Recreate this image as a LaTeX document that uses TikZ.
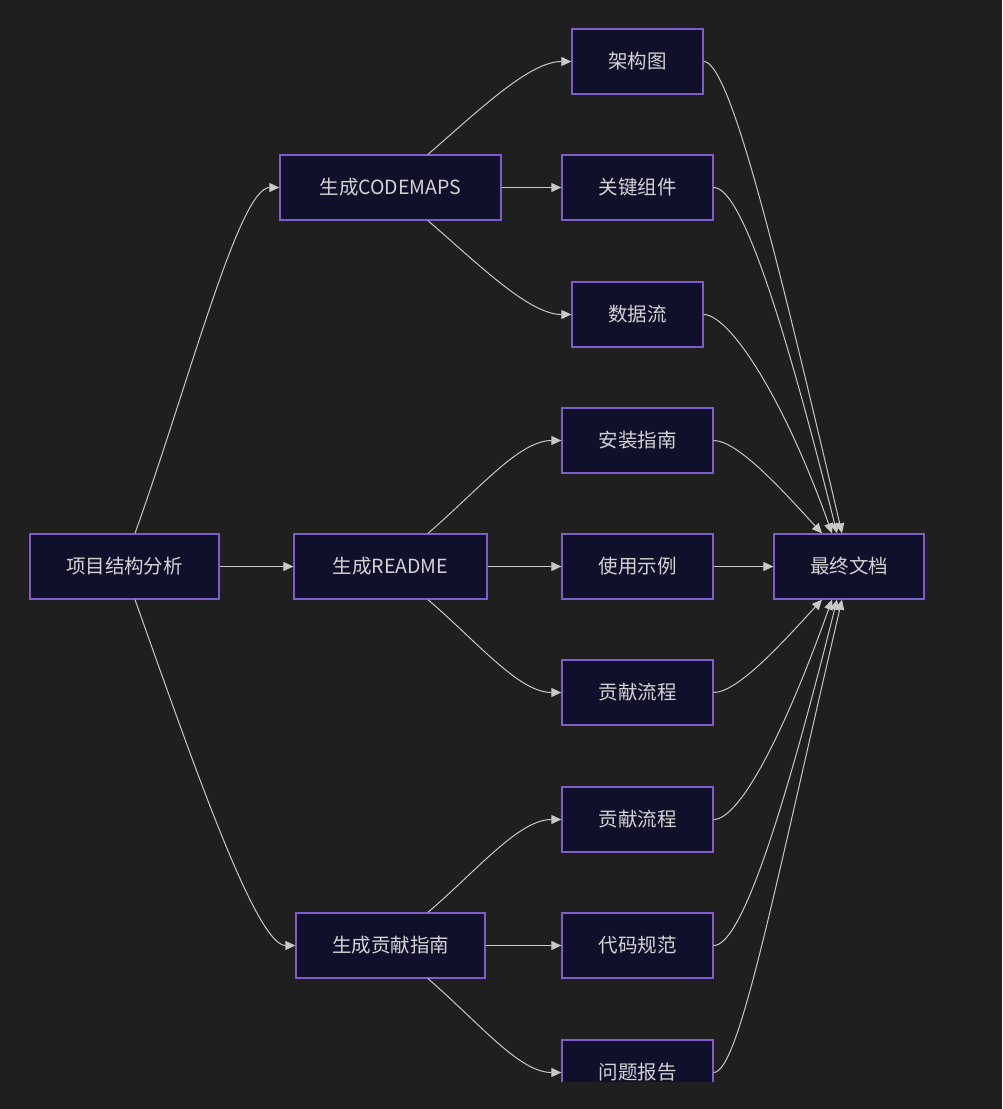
\documentclass[tikz,border=0pt]{standalone}
\usepackage{fontspec}
\setmainfont{Noto Sans CJK SC}
\usetikzlibrary{arrows.meta}
\definecolor{bgdark}{HTML}{1F1F1F}
\definecolor{boxfill}{HTML}{10102A}
\definecolor{boxedge}{HTML}{7E5CCB}
\definecolor{linkgray}{HTML}{C8C8C8}
\definecolor{txtgray}{HTML}{D4D4D4}

\begin{document}
\begin{tikzpicture}[x=1pt,y=-1pt,
  box/.style={draw=boxedge,line width=1.3pt,fill=boxfill,text=txtgray,
    minimum height=65pt,inner sep=0pt,font=\fontsize{19.5}{23}\selectfont},
  link/.style={draw=linkgray,line width=1pt,-{Triangle[length=10pt,width=9pt]}}]
  % --- canvas ---
  \fill[bgdark] (0,0) rectangle (1002,1109);
  \useasboundingbox (0,0) rectangle (1002,1109);
  \begin{scope}
    \clip (0,0) rectangle (1002,1081);
    % --- left column ---
    \node[box,minimum width=189pt] (proj) at (124.5,566.5) {项目结构分析};
    % --- generators ---
    \node[box,minimum width=221pt] (cmap) at (390.5,187.5) {生成CODEMAPS};
    \node[box,minimum width=193pt] (readme) at (390.5,566.5) {生成README};
    \node[box,minimum width=189pt] (guide) at (390.5,945.5) {生成贡献指南};
    % --- parts ---
    \node[box,minimum width=131pt] (arch) at (637.5,61.5) {架构图};
    \node[box,minimum width=151pt] (comp) at (637.5,187.5) {关键组件};
    \node[box,minimum width=131pt] (flow) at (637.5,314.5) {数据流};
    \node[box,minimum width=151pt] (inst) at (637.5,440.5) {安装指南};
    \node[box,minimum width=151pt] (usage) at (637.5,566.5) {使用示例};
    \node[box,minimum width=151pt] (contA) at (637.5,692.5) {贡献流程};
    \node[box,minimum width=151pt] (contB) at (637.5,819.5) {贡献流程};
    \node[box,minimum width=151pt] (style) at (637.5,945.5) {代码规范};
    \node[box,minimum width=151pt] (issue) at (637.5,1072.5) {问题报告};
    % --- result ---
    \node[box,minimum width=150pt] (final) at (849,566.5) {最终文档};

    % analysis -> generators
    \draw[link] ([xshift=10.5pt]proj.north) .. controls +(55,-154) and +(-40,0) .. (cmap.west);
    \draw[link] (proj.east) -- (readme.west);
    \draw[link] ([xshift=10.5pt]proj.south) .. controls +(55,154) and +(-40,0) .. (guide.west);
    % generators -> parts
    \draw[link] ([xshift=37.5pt]cmap.north) .. controls +(52,-45) and +(-42,0) .. (arch.west);
    \draw[link] (cmap.east) -- (comp.west);
    \draw[link] ([xshift=37.5pt]cmap.south) .. controls +(52,45) and +(-42,0) .. (flow.west);
    \draw[link] ([xshift=37.5pt]readme.north) .. controls +(52,-45) and +(-42,0) .. (inst.west);
    \draw[link] (readme.east) -- (usage.west);
    \draw[link] ([xshift=37.5pt]readme.south) .. controls +(52,45) and +(-42,0) .. (contA.west);
    \draw[link] ([xshift=37.5pt]guide.north) .. controls +(52,-45) and +(-42,0) .. (contB.west);
    \draw[link] (guide.east) -- (style.west);
    \draw[link] ([xshift=37.5pt]guide.south) .. controls +(52,45) and +(-42,0) .. (issue.west);
    % parts -> result
    \draw[link] (arch.east) .. controls +(25,0) and +(-70,-300) .. ([xshift=-7pt]final.north);
    \draw[link] (comp.east) .. controls +(25,0) and +(-60,-240) .. ([xshift=-12pt]final.north);
    \draw[link] (flow.east) .. controls +(25,0) and +(-50,-140) .. ([xshift=-17pt]final.north);
    \draw[link] (inst.east) .. controls +(25,0) and +(-35,-38) .. ([xshift=-27pt]final.north);
    \draw[link] (usage.east) -- (final.west);
    \draw[link] (contA.east) .. controls +(25,0) and +(-35,38) .. ([xshift=-27pt]final.south);
    \draw[link] (contB.east) .. controls +(25,0) and +(-50,140) .. ([xshift=-17pt]final.south);
    \draw[link] (style.east) .. controls +(25,0) and +(-60,240) .. ([xshift=-12pt]final.south);
    \draw[link] (issue.east) .. controls +(25,0) and +(-70,300) .. ([xshift=-7pt]final.south);
  \end{scope}
\end{tikzpicture}
\end{document}
